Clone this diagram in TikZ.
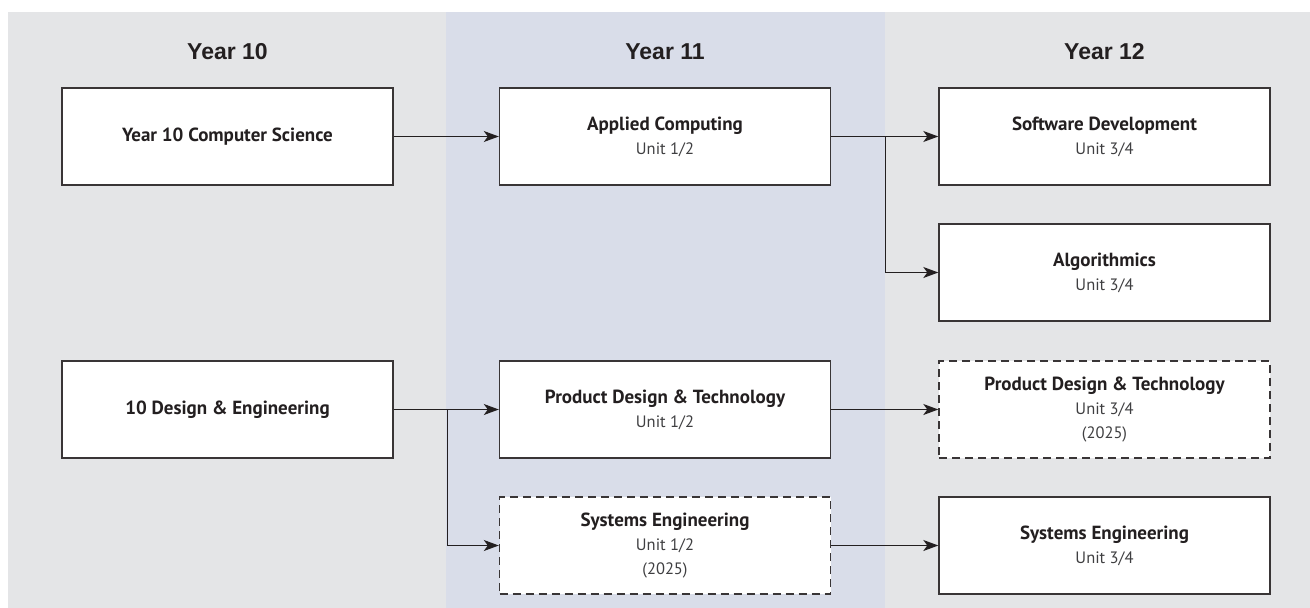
\documentclass[tikz,border=0pt]{standalone}
\usepackage{fontspec}
\setmainfont{PT Sans}
\newfontfamily\headfont{Liberation Sans}
\usetikzlibrary{arrows.meta}
\definecolor{bggray}{HTML}{E4E5E7}
\definecolor{bgblue}{HTML}{D9DDE9}
\definecolor{ink}{HTML}{231F20}
\definecolor{subink}{HTML}{3F3F41}
\newcommand{\ttl}[1]{{\fontsize{19}{24}\selectfont\bfseries\color{ink}#1}}
\newcommand{\sub}[1]{{\fontsize{16.5}{24}\selectfont\color{subink}#1}}
\begin{document}
\begin{tikzpicture}[x=1pt,y=-1pt,
 course/.style={draw=ink!90, line width=1.4pt, fill=white, minimum width=331pt, minimum height=97pt, inner sep=0pt, align=center, font=\fontsize{19}{24}\selectfont},
 planned/.style={course, dash pattern=on 8pt off 5pt},
 head/.style={font=\headfont\bfseries\fontsize{23}{27}\selectfont, text=ink, anchor=base},
 link/.style={draw=ink, line width=1.1pt, -{Stealth[length=15pt,width=11pt,inset=4pt]}}
]
\useasboundingbox (0,0) rectangle (1310,608);
\fill[white] (0,0) rectangle (1310,608);
\fill[bggray] (8,12) rectangle (1310,608);
\fill[bgblue] (446,12) rectangle (885,608);

\node[head] (h10) at (227.5,59) {Year 10};
\node[head] (h11) at (665,59) {Year 11};
\node[head] (h12) at (1104.5,59) {Year 12};

\node[course] (cs) at (227.5,136.5) {\ttl{Year 10 Computer Science}};
\node[course] (ac) at (665,136.5) {\ttl{Applied Computing}\\\sub{Unit 1/2}};
\node[course] (sd) at (1104.5,136.5) {\ttl{Software Development}\\\sub{Unit 3/4}};
\node[course] (al) at (1104.5,272.5) {\ttl{Algorithmics}\\\sub{Unit 3/4}};
\node[course] (de) at (227.5,409.5) {\ttl{10 Design \& Engineering}};
\node[course] (pd) at (665,409.5) {\ttl{Product Design \& Technology}\\\sub{Unit 1/2}};
\node[planned] (pd2) at (1104.5,409.5) {\ttl{Product Design \& Technology}\\\sub{Unit 3/4}\\\sub{(2025)}};
\node[planned] (se) at (665,545.5) {\ttl{Systems Engineering}\\\sub{Unit 1/2}\\\sub{(2025)}};
\node[course] (se2) at (1104.5,545.5) {\ttl{Systems Engineering}\\\sub{Unit 3/4}};

\coordinate (j1) at (885.5,136.5);
\coordinate (j2) at (447.5,409.5);

\draw[link] (cs.east) -- (ac.west);
\draw[link] (ac.east) -- (sd.west);
\draw[link] (j1) |- (al.west);
\draw[link] (de.east) -- (pd.west);
\draw[link] (j2) |- (se.west);
\draw[link] (pd.east) -- (pd2.west);
\draw[link] (se.east) -- (se2.west);
\end{tikzpicture}
\end{document}
